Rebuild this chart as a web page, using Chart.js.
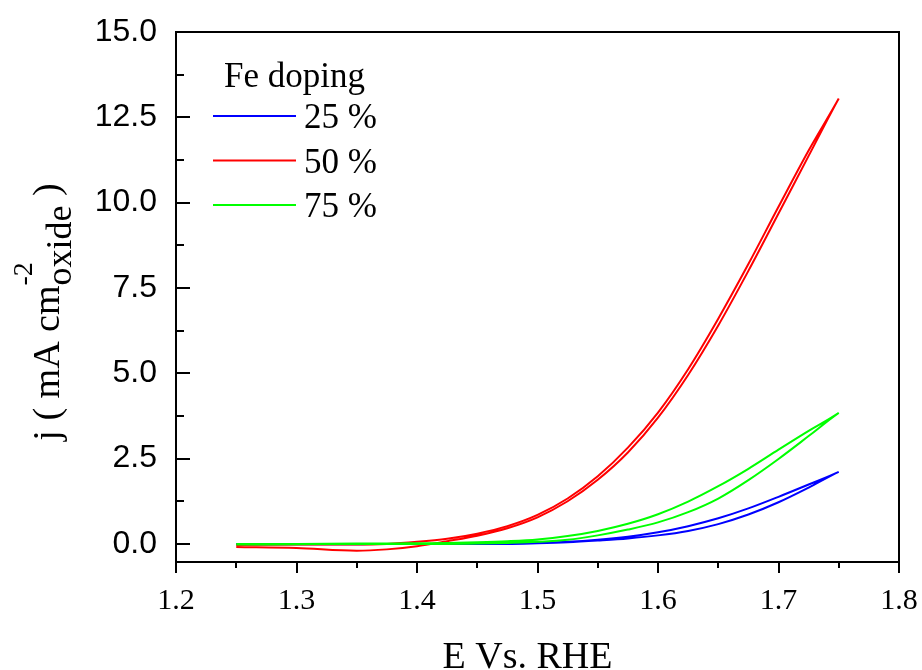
<!DOCTYPE html>
<html>
<head>
<meta charset="utf-8">
<title>Fe doping - LSV</title>
<script src="https://cdn.jsdelivr.net/npm/chart.js@4.4.1/dist/chart.umd.min.js"></script>
<style>
    body { margin: 0; background: #ffffff; }
    #wrap { width: 922px; height: 670px; }
</style>
</head>
<body>
<div id="wrap"><canvas id="chart_1" width="922" height="670"></canvas></div>
<script>
console.log('Loading: lsv chart');

/* Assigning variables */

// potential steps of the sweep (V vs RHE), forward goes up, reverse comes back
const potential = [1.25, 1.30, 1.35, 1.375, 1.40, 1.425, 1.45, 1.475, 1.50, 1.525, 1.55, 1.575, 1.60, 1.625, 1.65, 1.675, 1.70, 1.725, 1.75];

// current density, mA cm-2 of oxide
const j25Forward = [-0.01, -0.01, -0.01, 0.00, 0.00, 0.00, 0.00, 0.00, 0.02, 0.05, 0.10, 0.16, 0.25, 0.38, 0.58, 0.86, 1.22, 1.65, 2.11];
const j25Reverse = [0.00, 0.00, 0.00, 0.00, 0.00, 0.00, 0.00, 0.01, 0.03, 0.06, 0.12, 0.21, 0.34, 0.52, 0.75, 1.04, 1.38, 1.74, 2.11];
const j50Forward = [-0.09, -0.12, -0.20, -0.16, -0.07, 0.08, 0.24, 0.46, 0.78, 1.25, 1.88, 2.68, 3.70, 4.95, 6.40, 8.00, 9.68, 11.37, 13.05];
const j50Reverse = [-0.03, -0.02, -0.02, 0.00, 0.06, 0.15, 0.30, 0.52, 0.85, 1.33, 1.98, 2.82, 3.85, 5.12, 6.60, 8.20, 9.88, 11.53, 13.05];
const j75Forward = [-0.02, -0.01, 0.00, 0.00, 0.00, 0.00, 0.01, 0.03, 0.06, 0.12, 0.25, 0.42, 0.63, 0.93, 1.33, 1.87, 2.49, 3.16, 3.84];
const j75Reverse = [0.00, 0.00, 0.01, 0.01, 0.02, 0.03, 0.05, 0.08, 0.13, 0.23, 0.38, 0.59, 0.87, 1.24, 1.69, 2.20, 2.76, 3.31, 3.84];

const seriesLabels = ['25 %', '50 %', '75 %'];
const seriesColors = ['#0000ff', '#ff0000', '#00ff00'];
const legendTitle = 'Fe doping';

const xTickValues = [1.2, 1.3, 1.4, 1.5, 1.6, 1.7, 1.8];
const xTickLabels = ['1.2', '1.3', '1.4', '1.5', '1.6', '1.7', '1.8'];
const yTickValues = [0, 2.5, 5, 7.5, 10, 12.5, 15];
const yTickLabels = ['0.0', '2.5', '5.0', '7.5', '10.0', '12.5', '15.0'];

const SERIF = '"Liberation Serif", "Times New Roman", serif';
const SANS = '"Liberation Sans", Arial, sans-serif';

/* Assigning functions */

// join forward and reverse sweep into one closed loop of points
function buildLoop(forward, reverse) {
    const points = potential.map((e, i) => ({ x: e, y: forward[i] }));
    for (let i = potential.length - 2; i >= 0; i--) {
        points.push({ x: potential[i], y: reverse[i] });
    }
    return points;
}

// box, inward y ticks, outward x ticks, legend and axis titles
const decorPlugin = {
    id: 'decor',
    afterDraw(chart) {
        const ctx = chart.ctx;
        const area = chart.chartArea;
        const xs = chart.scales.x;
        const ys = chart.scales.y;

        ctx.save();
        ctx.strokeStyle = '#000000';
        ctx.lineWidth = 2;
        ctx.strokeRect(area.left, area.top, area.right - area.left, area.bottom - area.top);

        ctx.beginPath();
        for (let k = 0; k <= 12; k++) {
            const v = 1.2 + k * 0.05;
            const px = Math.round(xs.getPixelForValue(v));
            const len = k % 2 === 0 ? 11 : 6;
            ctx.moveTo(px, area.bottom);
            ctx.lineTo(px, area.bottom + len);
        }
        for (let k = 0; k <= 12; k++) {
            const v = k * 1.25;
            const py = Math.round(ys.getPixelForValue(v));
            const len = k % 2 === 0 ? 14 : 8;
            ctx.moveTo(area.left, py);
            ctx.lineTo(area.left + len, py);
        }
        ctx.stroke();

        // legend
        ctx.fillStyle = '#000000';
        ctx.textBaseline = 'alphabetic';
        ctx.textAlign = 'left';
        ctx.font = '35px ' + SERIF;
        ctx.fillText(legendTitle, 224, 87);
        chart.data.datasets.forEach((ds, i) => {
            const y = 116 + i * 44.5;
            ctx.strokeStyle = ds.borderColor;
            ctx.lineWidth = 2;
            ctx.beginPath();
            ctx.moveTo(213, y);
            ctx.lineTo(296, y);
            ctx.stroke();
            ctx.fillText(ds.label, 304, y + 12);
        });

        // x title
        ctx.textAlign = 'center';
        ctx.font = '38px ' + SERIF;
        ctx.fillText('E Vs. RHE', (area.left + area.right) / 2 - 10, 668);

        // y title with super- and subscript
        const mainText = 'j ( mA cm';
        const supText = '-2';
        const subText = 'oxide';
        const endText = ' )';
        ctx.font = '38px ' + SERIF;
        const wMain = ctx.measureText(mainText).width;
        const wEnd = ctx.measureText(endText).width;
        ctx.font = '28px ' + SERIF;
        const wSup = ctx.measureText(supText).width;
        ctx.font = '36px ' + SERIF;
        const wSub = ctx.measureText(subText).width;
        const total = wMain + Math.max(wSup, wSub) + wEnd;

        ctx.translate(59, 312);
        ctx.rotate(-Math.PI / 2);
        ctx.textAlign = 'left';
        let x0 = -total / 2;
        ctx.font = '38px ' + SERIF;
        ctx.fillText(mainText, x0, 0);
        x0 += wMain;
        ctx.font = '28px ' + SERIF;
        ctx.fillText(supText, x0, -27);
        ctx.font = '36px ' + SERIF;
        ctx.fillText(subText, x0, 12);
        x0 += Math.max(wSup, wSub);
        ctx.font = '38px ' + SERIF;
        ctx.fillText(endText, x0, 0);
        ctx.restore();
    }
};

/* Start of the script */

const datasets = [
    { label: seriesLabels[0], data: buildLoop(j25Forward, j25Reverse), borderColor: seriesColors[0], order: 2 },
    { label: seriesLabels[1], data: buildLoop(j50Forward, j50Reverse), borderColor: seriesColors[1], order: 1 },
    { label: seriesLabels[2], data: buildLoop(j75Forward, j75Reverse), borderColor: seriesColors[2], order: 0 }
].map(ds => Object.assign(ds, {
    showLine: true,
    fill: false,
    borderWidth: 2,
    pointRadius: 0,
    cubicInterpolationMode: 'monotone'
}));

new Chart('chart_1', {
    type: 'scatter',
    data: { datasets: datasets },
    options: {
        responsive: false,
        animation: false,
        layout: { padding: { top: 32, right: 23, left: 0, bottom: 0 } },
        plugins: {
            legend: { display: false },
            tooltip: { enabled: false }
        },
        scales: {
            x: {
                type: 'linear',
                min: 1.2,
                max: 1.8,
                afterBuildTicks: scale => { scale.ticks = xTickValues.map(v => ({ value: v })); },
                afterFit: scale => {
                    scale.height = 108;
                    scale.paddingLeft = 0;
                    scale.paddingRight = 0;
                },
                grid: { display: true, drawOnChartArea: false, drawTicks: false, color: 'rgba(0,0,0,0)' },
                border: { display: false },
                ticks: {
                    padding: 21,
                    color: '#000000',
                    font: { family: SERIF, size: 30 },
                    callback: (v, i) => xTickLabels[i]
                }
            },
            y: {
                type: 'linear',
                min: -0.53,
                max: 15,
                afterBuildTicks: scale => { scale.ticks = yTickValues.map(v => ({ value: v })); },
                afterFit: scale => {
                    scale.width = 176;
                    scale.paddingTop = 0;
                    scale.paddingBottom = 0;
                },
                grid: { display: true, drawOnChartArea: false, drawTicks: false, color: 'rgba(0,0,0,0)' },
                border: { display: false },
                ticks: {
                    padding: 19,
                    color: '#000000',
                    font: { family: SANS, size: 32 },
                    callback: (v, i) => yTickLabels[i]
                }
            }
        }
    },
    plugins: [decorPlugin]
});
</script>
</body>
</html>
